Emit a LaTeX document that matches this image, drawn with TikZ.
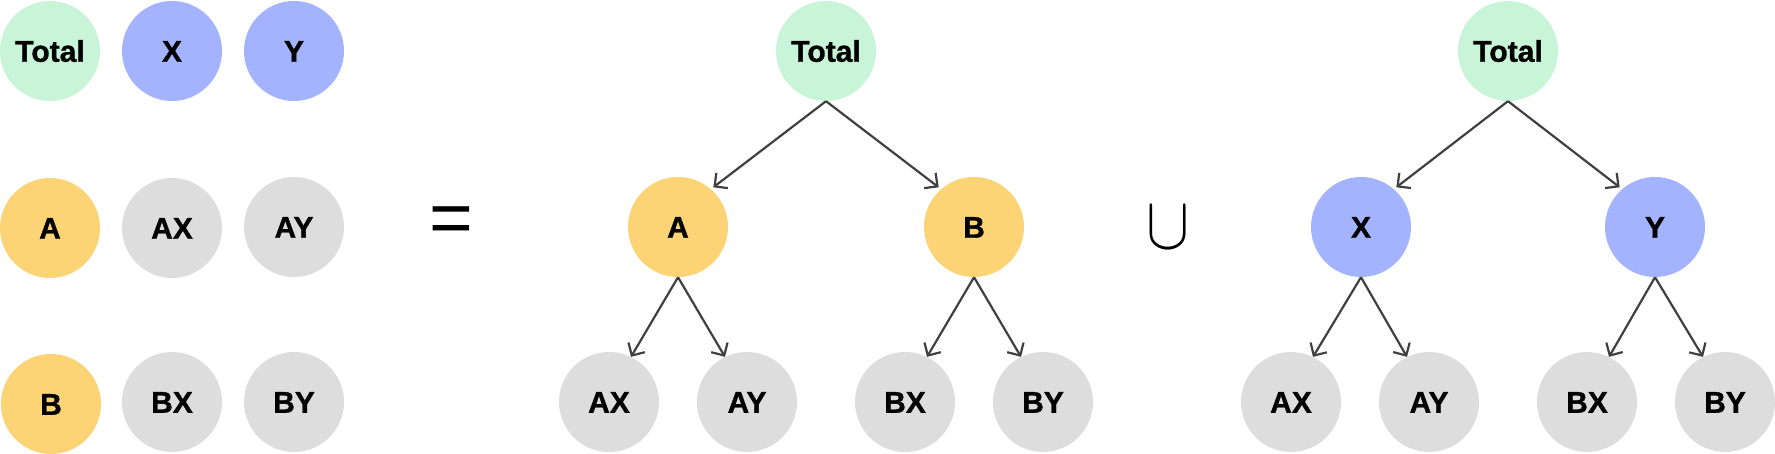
\documentclass[tikz,border=0pt]{standalone}
\usepackage{fontspec}
\setmainfont{Liberation Sans}[BoldFeatures={FakeBold=1}]
\usetikzlibrary{arrows.meta}
\definecolor{cgreen}{HTML}{C8F5D8}
\definecolor{cblue}{HTML}{A3B3FF}
\definecolor{corange}{HTML}{FCD375}
\definecolor{cgray}{HTML}{DDDDDD}
\definecolor{cline}{HTML}{404040}
\tikzset{
  ball/.style={circle, minimum size=100pt, inner sep=0pt, draw=none,
    font=\fontsize{30}{30}\selectfont\bfseries, text height=21.5pt, text depth=0pt},
  gball/.style={ball, fill=cgreen},
  bball/.style={ball, fill=cblue},
  oball/.style={ball, fill=corange},
  yball/.style={ball, fill=cgray},
  conn/.style={draw=cline, line width=2.2pt, -{Straight Barb[length=9.5pt,width=19pt]}},
  topconn/.style={conn, shorten >=3pt},
  opsym/.style={inner sep=0pt}
}
\begin{document}
\begin{tikzpicture}[x=1pt,y=-1pt]
\useasboundingbox (0,0) rectangle (1775,454);
% left grid
\node[gball] (gT) at (50,51) {Total};
\node[bball] (gX) at (172,51) {X};
\node[bball] (gY) at (294,51) {Y};
\node[oball] (gA) at (50,228) {A};
\node[yball] (gAX) at (172,228) {AX};
\node[yball] (gAY) at (294,227) {AY};
\node[oball] (gB) at (51,404) {B};
\node[yball] (gBX) at (172,402) {BX};
\node[yball] (gBY) at (294,402) {BY};
% operators
\node[opsym, font=\fontsize{75}{75}\selectfont] (eq) at (451.5,225) {=};
\node[opsym, font=\fontsize{24.88}{30}\selectfont] (un) at (1168,227.5) {\scalebox{2.6}[3.0]{$\cup$}};
% tree 1
\node[gball] (t1) at (826,51) {Total};
\node[oball] (a1) at (678,227) {A};
\node[oball] (b1) at (974,227) {B};
\node[yball] (ax1) at (609,402) {AX};
\node[yball] (ay1) at (747,402) {AY};
\node[yball] (bx1) at (905,402) {BX};
\node[yball] (by1) at (1043,402) {BY};
% tree 2
\node[gball] (t2) at (1508,51) {Total};
\node[bball] (x2) at (1361,227) {X};
\node[bball] (y2) at (1655,227) {Y};
\node[yball] (ax2) at (1291,402) {AX};
\node[yball] (ay2) at (1429,402) {AY};
\node[yball] (bx2) at (1587,402) {BX};
\node[yball] (by2) at (1725,402) {BY};
% connectors
\draw[topconn] (t1.south) -- (a1.49);
\draw[topconn] (t1.south) -- (b1.131);
\draw[conn] (a1.south) -- (ax1.64);
\draw[conn] (a1.south) -- (ay1.116);
\draw[conn] (b1.south) -- (bx1.64);
\draw[conn] (b1.south) -- (by1.116);
\draw[topconn] (t2.south) -- (x2.49);
\draw[topconn] (t2.south) -- (y2.131);
\draw[conn] (x2.south) -- (ax2.64);
\draw[conn] (x2.south) -- (ay2.116);
\draw[conn] (y2.south) -- (bx2.64);
\draw[conn] (y2.south) -- (by2.116);
\end{tikzpicture}
\end{document}
